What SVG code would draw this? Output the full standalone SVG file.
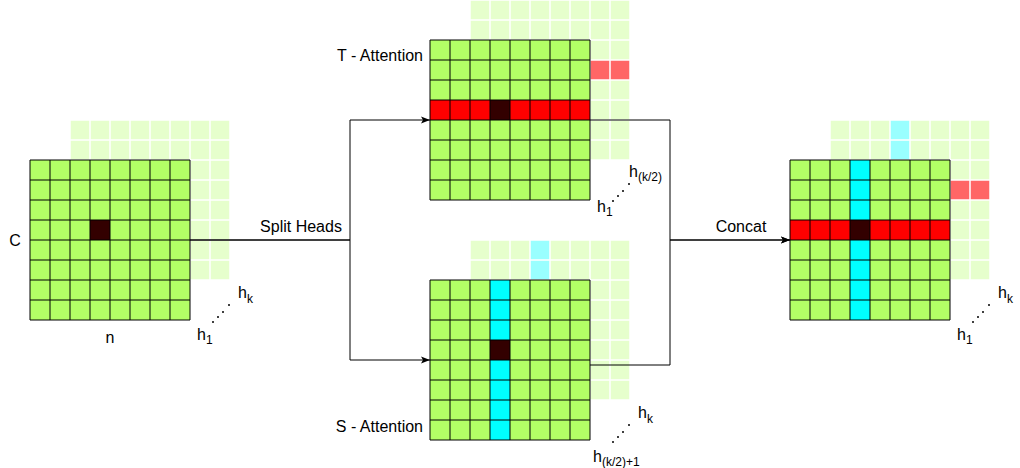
<svg xmlns="http://www.w3.org/2000/svg" xmlns:xlink="http://www.w3.org/1999/xlink" width="1020" height="468" viewBox="0 0 1020 468">
<style>
.front{fill:#B3FF66}
.back{fill:#E6FFCC}
.fl{fill:none;stroke:#000;stroke-width:1}
.bl{fill:none;stroke:#fff;stroke-width:1.5}
.red{fill:#FF0000}
.lred{fill:#FF6666}
.cyan{fill:#00FFFF}
.lcyan{fill:#99FFFF}
.dark{fill:#330000}
text{font-family:"Liberation Sans",Arial,Helvetica,sans-serif;font-size:16px;fill:#000}
tspan.sub{font-size:12px;fill:#000}
.conn{fill:none;stroke:#000;stroke-width:1}
.dot{fill:#000}
</style>
<defs>
<path id="grid" d="M0 0H160M0 20H160M0 40H160M0 60H160M0 80H160M0 100H160M0 120H160M0 140H160M0 160H160M0 0V160M20 0V160M40 0V160M60 0V160M80 0V160M100 0V160M120 0V160M140 0V160M160 0V160"/>
<g id="dots">
<circle cx="0" cy="0" r="1"/>
<circle cx="5" cy="-5" r="1"/>
<circle cx="10" cy="-10" r="1"/>
<circle cx="16" cy="-17" r="1"/>
</g>
<marker id="arr" markerUnits="userSpaceOnUse" markerWidth="10" markerHeight="10" refX="10" refY="5" orient="auto">
<path d="M1,1.5 L10,5 L1,8.5 L3,5 Z" fill="#000"/>
</marker>
</defs>

<g id="input">
<rect class="back" x="70" y="120" width="160" height="160"/>
<use xlink:href="#grid" href="#grid" x="70" y="120" class="bl"/>
<rect class="front" x="30" y="160" width="160" height="160"/>
<rect class="dark" x="90" y="220" width="20" height="20"/>
<use xlink:href="#grid" href="#grid" x="30" y="160" class="fl"/>
<text x="15" y="246" text-anchor="middle">C</text>
<text x="110" y="343" text-anchor="middle">n</text>
<text x="238" y="298">h<tspan class="sub" dy="5">k</tspan></text>
<text x="197" y="340">h<tspan class="sub" dy="4">1</tspan></text>
<use xlink:href="#dots" href="#dots" x="213" y="322" class="dot"/>
</g>

<g id="t-attention">
<rect class="back" x="470" y="0" width="160" height="160"/>
<rect class="lred" x="590" y="60" width="40" height="20"/>
<use xlink:href="#grid" href="#grid" x="470" y="0" class="bl"/>
<rect class="front" x="430" y="40" width="160" height="160"/>
<rect class="red" x="430" y="100" width="160" height="20"/>
<rect class="dark" x="490" y="100" width="20" height="20"/>
<use xlink:href="#grid" href="#grid" x="430" y="40" class="fl"/>
<text x="423" y="61" text-anchor="end">T - Attention</text>
<text x="629" y="177">h<tspan class="sub" dy="4">(k/2)</tspan></text>
<text x="597" y="212">h<tspan class="sub" dy="4">1</tspan></text>
<use xlink:href="#dots" href="#dots" x="613" y="201" class="dot"/>
</g>

<g id="s-attention">
<rect class="back" x="470" y="240" width="160" height="160"/>
<rect class="lcyan" x="530" y="240" width="20" height="40"/>
<use xlink:href="#grid" href="#grid" x="470" y="240" class="bl"/>
<rect class="front" x="430" y="280" width="160" height="160"/>
<rect class="cyan" x="490" y="280" width="20" height="160"/>
<rect class="dark" x="490" y="340" width="20" height="20"/>
<use xlink:href="#grid" href="#grid" x="430" y="280" class="fl"/>
<text x="423" y="432" text-anchor="end">S - Attention</text>
<text x="638" y="418">h<tspan class="sub" dy="5">k</tspan></text>
<text x="593" y="462">h<tspan class="sub" dy="4">(k/2)+1</tspan></text>
<use xlink:href="#dots" href="#dots" x="613" y="442" class="dot"/>
</g>

<g id="output">
<rect class="back" x="830" y="120" width="160" height="160"/>
<rect class="lcyan" x="890" y="120" width="20" height="40"/>
<rect class="lred" x="950" y="180" width="40" height="20"/>
<use xlink:href="#grid" href="#grid" x="830" y="120" class="bl"/>
<rect class="front" x="790" y="160" width="160" height="160"/>
<rect class="cyan" x="850" y="160" width="20" height="160"/>
<rect class="red" x="790" y="220" width="160" height="20"/>
<rect class="dark" x="850" y="220" width="20" height="20"/>
<use xlink:href="#grid" href="#grid" x="790" y="160" class="fl"/>
<text x="998" y="298">h<tspan class="sub" dy="5">k</tspan></text>
<text x="957" y="340">h<tspan class="sub" dy="4">1</tspan></text>
<use xlink:href="#dots" href="#dots" x="973" y="322" class="dot"/>
</g>

<g id="connectors">
<path class="conn" d="M190 240H350V120H430" marker-end="url(#arr)"/>
<path class="conn" d="M190 240H350V360H430" marker-end="url(#arr)"/>
<path class="conn" d="M590 120H670V240H790" marker-end="url(#arr)"/>
<path class="conn" d="M590 365H670V240H790" marker-end="url(#arr)"/>
<text x="301" y="232" text-anchor="middle">Split Heads</text>
<text x="741" y="232" text-anchor="middle">Concat</text>
</g>
</svg>
